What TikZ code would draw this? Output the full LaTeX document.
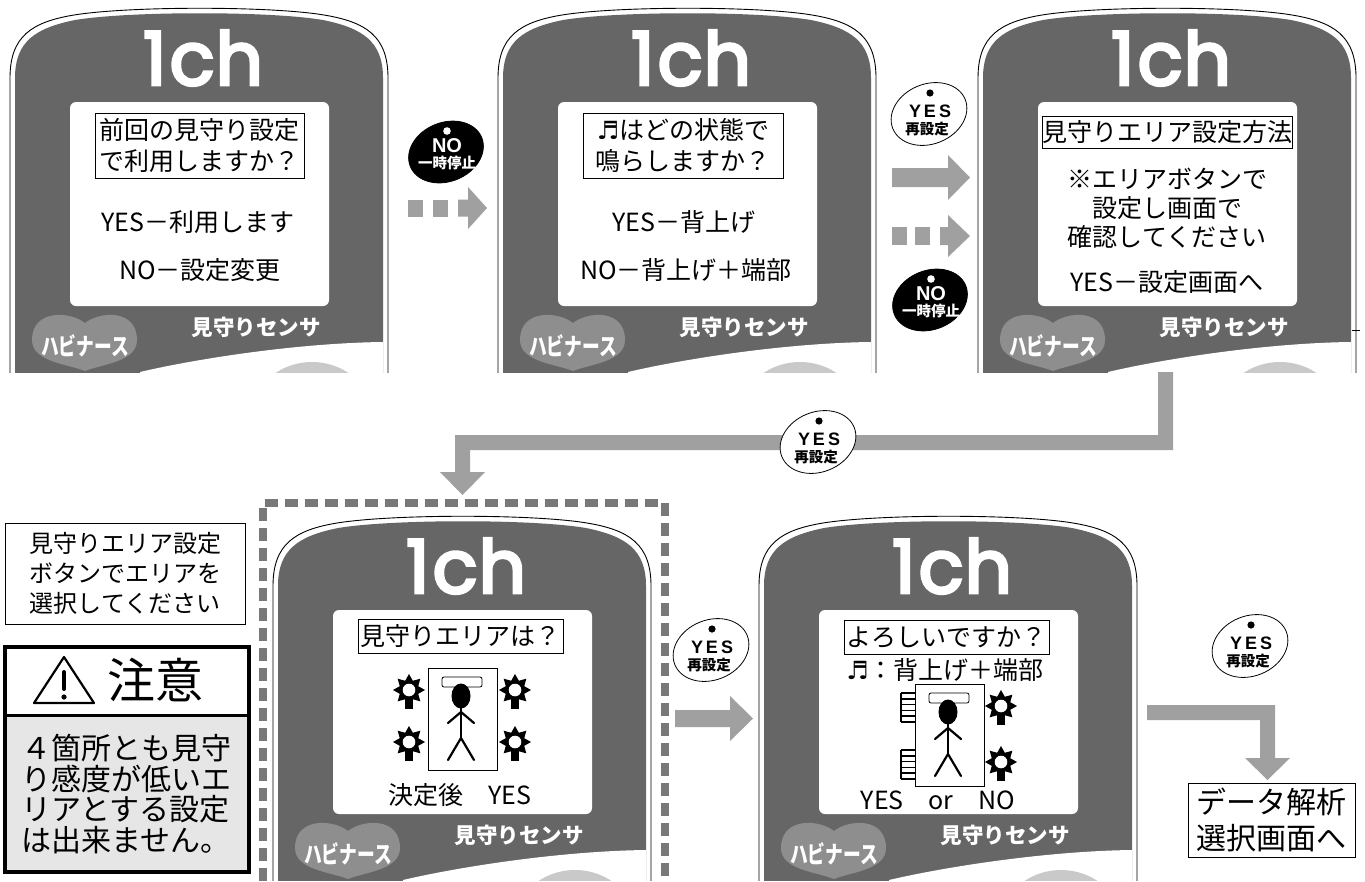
\documentclass[tikz,border=0pt]{standalone}
\usepackage{fontspec}
\usetikzlibrary{shapes.geometric}
\newfontfamily\jp{Noto Sans CJK JP}
\newfontfamily\pop[FakeBold=4]{Poppins}
\newfontfamily\dvs{DejaVu Sans}
\newfontfamily\lib{Liberation Sans}

\definecolor{bodygray}{HTML}{666666}
\definecolor{logogray}{HTML}{8E8E8E}
\definecolor{circgray}{HTML}{C9C9C9}
\definecolor{arrowgray}{HTML}{A0A0A0}
\definecolor{dashgray}{HTML}{787878}
\definecolor{cautiongray}{HTML}{E6E6E6}

\tikzset{
  scrtext/.style={inner sep=0, font=\jp\fontsize{25}{30}\selectfont},
  titlebox/.style={draw, line width=0.8, inner sep=0, align=center, font=\jp\fontsize{25}{31}\selectfont},
  infobox/.style={draw, line width=0.9, inner sep=0, align=center},
  badge/.style={ellipse, draw, line width=0.8, inner sep=0, minimum width=78, minimum height=60, rotate=22},
  figline/.style={line width=2.2, line cap=round},
  % one remote-control panel, cut off at the bottom
  panel/.pic={
    \begin{scope}
      \clip (-5,-5) rectangle (405,372);
      \draw[line width=0.9] (10,380) -- (10,78) .. controls (10,36) and (32,22) .. (74,15)
        .. controls (130,6) and (270,6) .. (324,15) .. controls (366,22) and (388,36) .. (388,78) -- (388,380);
      \path[fill=bodygray] (15,380) -- (15,78) .. controls (15,41) and (36,28) .. (75,20)
        .. controls (130,11) and (270,11) .. (323,20) .. controls (362,28) and (383,41) .. (383,78) -- (383,380) -- cycle;
      \begin{scope}
        \clip (15,380) -- (15,78) -- (383,78) -- (383,380) -- cycle;
        \fill[white] (140,372) .. controls (200,358) and (300,343) .. (383,342) -- (400,342) -- (400,390) -- (140,390) -- cycle;
        \fill[circgray] (312,428) circle [radius=66];
      \end{scope}
      \fill[white, rounded corners=6] (70,102) rectangle (329,306);
      \fill[logogray] (85,323) .. controls (70,311) and (32,309) .. (32,340) .. controls (32,362) and (68,364) .. (85,371)
        .. controls (102,364) and (137,362) .. (137,340) .. controls (137,309) and (100,311) .. (85,323) -- cycle;
      \node[text=white, inner sep=0, font=\jp\bfseries\fontsize{24}{24}\selectfont, xscale=0.74] (-logo) at (85,346) {ハビナース};
      \node[text=white, inner sep=0, font=\jp\bfseries\fontsize{21.5}{21.5}\selectfont] (-sensor) at (256,327) {見守りセンサ};
      \node[text=white, inner sep=0, anchor=base, font=\pop\fontsize{74}{74}\selectfont] (-ch) at (203,85) {1\kern3pt c\kern1pt h};
    \end{scope}
  },
  % light with a spiked halo
  sunicon/.pic={
    \fill (90:16) \foreach \i in {1,...,15} { -- ({90+\i*22.5}:{ifthenelse(mod(\i,2)==0,16,10)}) } -- cycle;
    \fill (-4,9) rectangle (4,19);
    \fill[white] (0,0) circle [radius=6.3];
  },
  % sensor pad beside the bed
  comb/.pic={
    \draw[line width=1.8] (0,0) -- (0,29);
    \foreach \k in {0,...,5} \draw[line width=1.6] (0,{\k*5.8}) -- (14,{\k*5.8});
  },
  % bed seen from above, with a person lying on it
  bedfig/.pic={
    \draw[line width=0.8] (0,0) rectangle (69,102);
    \draw[line width=0.8, rounded corners=2] (14,9) rectangle (54,19);
    \fill (33,28) ellipse [x radius=9.5, y radius=12.5];
    \draw[figline] (33,38) -- (33,70);
    \draw[figline] (20,55) -- (33,44) -- (46,55);
    \draw[figline] (20,92) -- (33,70) -- (46,92);
  }
}

% black "NO" button and white "YES" button
\newcommand\mknobadge[3]{%
  \node[badge, fill=black, minimum width=77, minimum height=59] (#1) at (#2,#3) {};
  \fill[white] ({#2+1},{#3-21}) circle [radius=3.8];
  \node[text=white, inner sep=0, font=\lib\bfseries\fontsize{20}{20}\selectfont] (#1-a) at ({#2+1},{#3-6}) {NO};
  \node[text=white, inner sep=0, font=\jp\bfseries\fontsize{14.5}{14.5}\selectfont] (#1-b) at ({#2+1},{#3+11}) {一時停止};
}
\newcommand\mkyesbadge[3]{%
  \node[badge, fill=white] (#1) at (#2,#3) {};
  \fill ({#2+1},{#3-21}) circle [radius=3.6];
  \node[inner sep=0, font=\lib\bfseries\fontsize{18}{18}\selectfont] (#1-a) at ({#2+1},{#3-3}) {Y\kern3pt E\kern3pt S};
  \node[inner sep=0, font=\jp\bfseries\fontsize{14.5}{14.5}\selectfont] (#1-b) at ({#2-2},{#3+15}) {再設定};
}

\begin{document}
\begin{tikzpicture}[x=1pt,y=-1pt]
\useasboundingbox (0,0) rectangle (1365,881);
\fill[white] (0,0) rectangle (1365,881);

% ---- panels ----
\pic (p1) at (0,0) {panel};
\pic (p2) at (488,0) {panel};
\pic (p3) at (968,0) {panel};
\pic (p4) at (263,508) {panel};
\pic (p5) at (749,508) {panel};
\draw[line width=0.8] (1352,330) -- (1360,330);

% ---- screen 1 ----
\node[titlebox, minimum width=209, minimum height=65] (s1t) at (199.5,145.5) {前回の見守り設定\\で利用しますか？};
\node[scrtext] (s1y) at (198,222) {YES－利用します};
\node[scrtext] (s1n) at (200,270) {NO－設定変更};

% ---- screen 2 ----
\node[titlebox, minimum width=200, minimum height=65] (s2t) at (683,145.5) {{\dvs ♬}はどの状態で\\鳴らしますか？};
\node[scrtext] (s2y) at (684,222) {YES－背上げ};
\node[scrtext] (s2n) at (686,270) {NO－背上げ＋端部};

% ---- screen 3 ----
\node[titlebox, minimum width=246, minimum height=32] (s3t) at (1167,132) {見守りエリア設定方法};
\node[scrtext] (s3a) at (1167,179) {※エリアボタンで};
\node[scrtext] (s3b) at (1167,208) {設定し画面で};
\node[scrtext] (s3c) at (1167,237) {確認してください};
\node[scrtext] (s3d) at (1167,282) {YES－設定画面へ};

% ---- screen 4 ----
\node[titlebox, minimum width=205, minimum height=34] (s4t) at (460.5,636) {見守りエリアは？};
\pic (s4bed) at (428,668) {bedfig};
\pic at (409,690) {sunicon};
\pic at (409,742) {sunicon};
\pic at (515,690) {sunicon};
\pic at (515,742) {sunicon};
\node[scrtext] (s4y) at (460,795) {決定後　YES};

% ---- screen 5 ----
\node[titlebox, minimum width=205, minimum height=34] (s5t) at (946.5,637) {よろしいですか？};
\node[scrtext] (s5m) at (945,670) {{\dvs ♬}：背上げ＋端部};
\pic (s5bed) at (915,684) {bedfig};
\pic at (901,693) {comb};
\pic at (901,750) {comb};
\pic at (1001,706) {sunicon};
\pic at (1001,762) {sunicon};
\node[scrtext] (s5y) at (938,800) {YES　or　NO};

% ---- area selection frame ----
\draw[dashgray, line width=7.5, dash pattern=on 13 off 7] (263,881) -- (263,503) -- (665,503) -- (665,881);

% ---- arrows ----
\fill[arrowgray] (408,199.5) rectangle (423,216.5);
\fill[arrowgray] (433,199.5) rectangle (448,216.5);
\fill[arrowgray] (458,199.5) -- (468,199.5) -- (468,187) -- (487,208) -- (468,229) -- (468,216.5) -- (458,216.5) -- cycle;

\fill[arrowgray] (892,168) -- (948,168) -- (948,155) -- (970,177.5) -- (948,200) -- (948,187) -- (892,187) -- cycle;

\fill[arrowgray] (892,227) rectangle (907,245);
\fill[arrowgray] (915,227) rectangle (930,245);
\fill[arrowgray] (940,227) -- (948,227) -- (948,215) -- (970,236) -- (948,257) -- (948,245) -- (940,245) -- cycle;

\fill[arrowgray] (1158,372) -- (1173,372) -- (1173,450) -- (470,450) -- (470,472) -- (485,472) -- (462.5,495)
  -- (440,472) -- (455,472) -- (455,435) -- (1158,435) -- cycle;

\fill[arrowgray] (675,710) -- (730,710) -- (730,696) -- (753,718.5) -- (730,741) -- (730,727) -- (675,727) -- cycle;

\fill[arrowgray] (1147,705) -- (1275,705) -- (1275,758) -- (1290,758) -- (1267.5,780) -- (1245,758) -- (1260,758)
  -- (1260,720) -- (1147,720) -- cycle;

% ---- buttons ----
\mknobadge{no1}{446}{152}
\mknobadge{no2}{930}{300}
\mkyesbadge{yes1}{929}{114}
\mkyesbadge{yes2}{818}{442}
\mkyesbadge{yes3}{711}{650}
\mkyesbadge{yes4}{1250}{646}

% ---- notes on the left ----
\node[infobox, minimum width=240, minimum height=101, font=\jp\fontsize{24}{30}\selectfont] (note) at (125,573.5)
  {見守りエリア設定\\ボタンでエリアを\\選択してください};

\fill[cautiongray] (3,715) rectangle (247,870);
\draw[line width=3] (3,715) -- (247,715);
\node[draw, line width=3.5, minimum width=244, minimum height=225, inner sep=0, anchor=north west] (caution) at (3,645) {};
\draw[line width=2.2, line join=round] (64,657) -- (94,703) -- (34,703) -- cycle;
\draw[line width=4, line cap=round] (64,672) -- (64,689);
\fill (64,697) circle [radius=2.6];
\node[inner sep=0, font=\jp\fontsize{48}{48}\selectfont] (cauth) at (155,680) {注意};
\node[inner sep=0, align=left, font=\jp\fontsize{30}{30.7}\selectfont] (caubody) at (126,794)
  {４箇所とも見守\\り感度が低いエ\\リアとする設定\\は出来ません。};

% ---- destination ----
\node[infobox, minimum width=167, minimum height=74, font=\jp\fontsize{30}{36}\selectfont] (dest) at (1271.5,820)
  {データ解析\\選択画面へ};
\end{tikzpicture}
\end{document}
